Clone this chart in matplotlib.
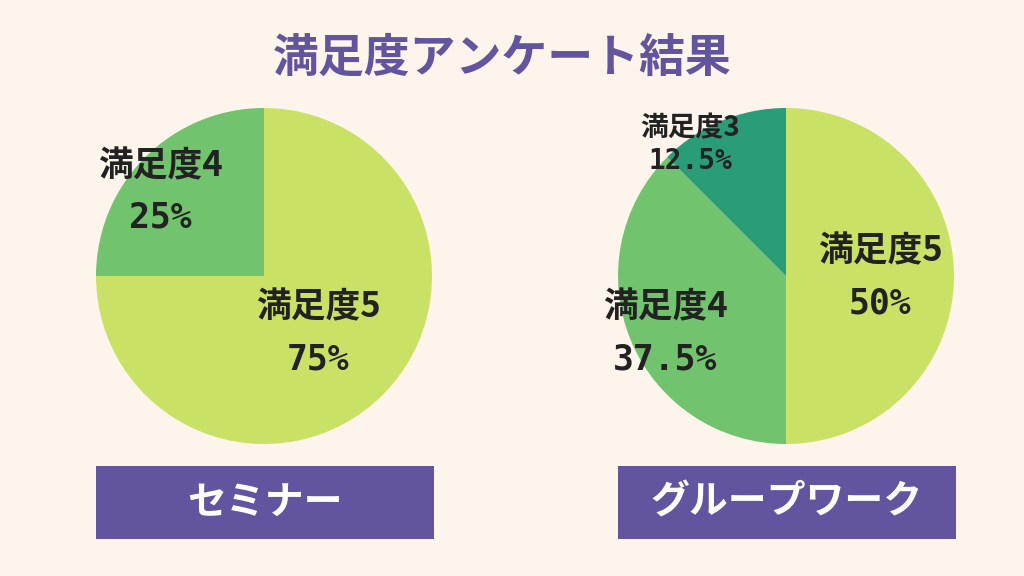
import matplotlib.pyplot as plt
from matplotlib.patches import Rectangle

plt.rcParams['font.family'] = ['Noto Sans CJK JP', 'DejaVu Sans']

title = '満足度アンケート結果'
seminar_labels = ['満足度5', '満足度4']
seminar_values = [75, 25]
group_labels = ['満足度5', '満足度4', '満足度3']
group_values = [50, 37.5, 12.5]
box_titles = ['セミナー', 'グループワーク']

bg = '#FDF5EB'
purple = '#62549E'
greens = ['#C9E265', '#72C36E', '#2A9D78']
ink = '#222222'

fig = plt.figure(figsize=(10.24, 5.76), dpi=100, facecolor=bg)
ax = fig.add_axes([0, 0, 1, 1])
ax.set_facecolor(bg)
H = 576

# pies (pixel coordinates, y measured from bottom)
ax.pie(seminar_values, colors=greens[:2], startangle=90, counterclock=False,
       center=(264, H - 276), radius=168, wedgeprops=dict(linewidth=0))
ax.pie(group_values, colors=greens, startangle=90, counterclock=False,
       center=(786, H - 276), radius=168, wedgeprops=dict(linewidth=0))

ax.set_xlim(0, 1024)
ax.set_ylim(0, H)
ax.set_aspect('auto')
ax.axis('off')

ax.text(502, H - 59, title, ha='center', va='center', fontsize=33,
        fontweight='bold', color=purple)


def label(x, y, name, value, size=25, gap=52):
    ax.text(x, H - y, name, ha='center', va='center', fontsize=size,
            fontweight='bold', color=ink)
    pct = ('%g' % value) + '%'
    ax.text(x, H - y - gap, pct, ha='center', va='center', fontsize=size,
            fontweight='bold', color=ink, family=['DejaVu Sans Mono'])


label(318, 307, seminar_labels[0], seminar_values[0])
label(160, 166, seminar_labels[1], seminar_values[1])
label(880, 251, group_labels[0], group_values[0])
label(665, 307, group_labels[1], group_values[1])
label(690, 128, group_labels[2], group_values[2], size=20, gap=33)

for x0, txt in zip([96, 618], box_titles):
    ax.add_patch(Rectangle((x0, H - 539), 338, 73, facecolor=purple,
                           edgecolor='none'))
    ax.text(x0 + 169, H - 502, txt, ha='center', va='center', fontsize=28,
            fontweight='bold', color='white')

fig.savefig('out.png', dpi=100, facecolor=bg)
